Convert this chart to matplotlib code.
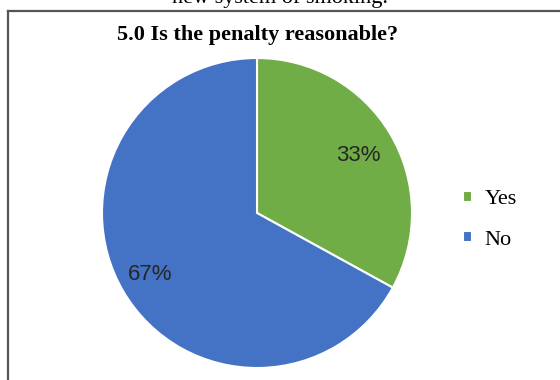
import matplotlib
matplotlib.use("Agg")
import matplotlib.pyplot as plt
from matplotlib.lines import Line2D

categories = ["Yes", "No"]
values = [33, 67]
colors = ["#70AD47", "#4472C4"]
title = "5.0 Is the penalty reasonable?"
caption = "new system of smoking."

plt.rcParams['font.family'] = ['Liberation Serif', 'DejaVu Serif']

fig = plt.figure(figsize=(5.6, 3.8), dpi=100)
W, H = 560, 380

# partial caption text at top (cropped in the reference)
fig.text(280 / W, 1 - 3 / H, caption, ha="center", va="baseline", fontsize=16)

# border lines
fig.add_artist(Line2D([8 / W, 1], [1 - 10.5 / H, 1 - 10.5 / H], color="#555555", lw=1.6))
fig.add_artist(Line2D([8 / W, 8 / W], [1 - 10.5 / H, 0], color="#555555", lw=1.6))

cx, cy, r = 257, 213, 155
ax = fig.add_axes([(cx - r) / W, (H - cy - r) / H, 2 * r / W, 2 * r / H])
wedges, texts = ax.pie(values, colors=colors, startangle=90, counterclock=False,
                       wedgeprops=dict(edgecolor="white", linewidth=1.5))
ax.set_aspect("equal")
ax.set_xlim(-1, 1)
ax.set_ylim(-1, 1)

# percentage labels
label_pos = [(358, 156), (150, 275)]
for v, (px, py) in zip(values, label_pos):
    fig.text(px / W, 1 - py / H, f"{v}%", ha="center", va="center",
             fontsize=16, family="Liberation Sans", color="#262626")

fig.text(258 / W, 1 - 35 / H, title, ha="center", va="center", fontsize=16, fontweight="bold")

fig.legend(wedges, categories, loc="center left", bbox_to_anchor=(452 / W, 1 - 220 / H),
           frameon=False, fontsize=16, handlelength=0.42, handleheight=0.42,
           handletextpad=0.55, labelspacing=0.95, borderpad=0)

fig.savefig("out.png", dpi=100)
